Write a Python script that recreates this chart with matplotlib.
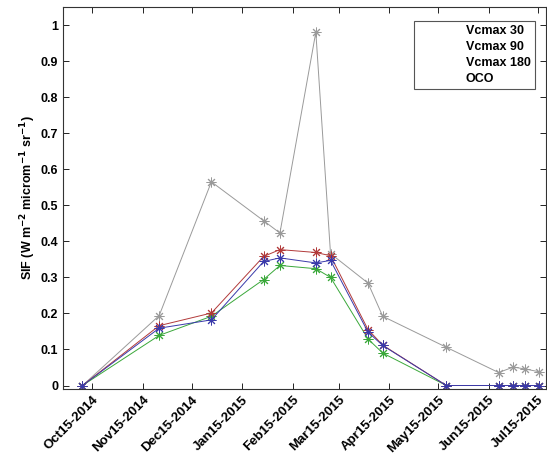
import matplotlib
matplotlib.use("Agg")
import matplotlib.pyplot as plt
from matplotlib.lines import Line2D
from datetime import datetime

plt.rcParams['font.family'] = ['Liberation Sans', 'DejaVu Sans']
plt.rcParams['font.weight'] = 'bold'

# observation dates
dates = ["2014-10-09", "2014-11-25", "2014-12-27", "2015-01-28", "2015-02-07",
         "2015-03-01", "2015-03-10", "2015-04-02", "2015-04-11", "2015-05-20",
         "2015-06-21", "2015-06-30", "2015-07-07", "2015-07-16"]

vcmax30 = [0, 0.166, 0.201, 0.358, 0.377, 0.369, 0.360, 0.155, 0.112, 0,
           0, 0, 0, 0]
vcmax90 = [0, 0.159, 0.182, 0.344, 0.354, 0.340, 0.347, 0.148, 0.111, 0,
           0, 0, 0, 0]
vcmax180 = [0, 0.139, 0.192, 0.294, 0.333, 0.324, 0.300, 0.129, 0.090, 0,
            0, 0, 0, 0]
oco = [0, 0.194, 0.565, 0.457, 0.423, 0.980, 0.366, 0.284, 0.192, 0.106,
       0.036, 0.051, 0.046, 0.038]

tick_dates = ["2014-10-15", "2014-11-15", "2014-12-15", "2015-01-15", "2015-02-15",
              "2015-03-15", "2015-04-15", "2015-05-15", "2015-06-15", "2015-07-15"]
tick_labels = ["Oct15-2014", "Nov15-2014", "Dec15-2014", "Jan15-2015", "Feb15-2015",
               "Mar15-2015", "Apr15-2015", "May15-2015", "Jun15-2015", "Jul15-2015"]

x = [datetime.strptime(d, "%Y-%m-%d") for d in dates]
xt = [datetime.strptime(d, "%Y-%m-%d") for d in tick_dates]

fig = plt.figure(figsize=(5.47, 4.66), dpi=100)
ax = fig.add_axes([0.115, 0.165, 0.883, 0.82])

# matlab style asterisk marker
star = (8, 2, 0)
style = dict(marker=star, markersize=7, linewidth=0.7, markeredgewidth=0.7)
ax.plot(x, oco, color='#9a9a9a', **style)
ax.plot(x, vcmax180, color='#3aa83a', **style)
ax.plot(x, vcmax30, color='#b23a3a', **style)
ax.plot(x, vcmax90, color='#3a3aaa', **style)

ax.set_xlim(datetime(2014, 9, 27), datetime(2015, 7, 20))
ax.set_ylim(-0.01, 1.05)
ax.set_xticks(xt)
ax.set_xticklabels(tick_labels, rotation=45, ha='right', rotation_mode='anchor',
                   fontsize=9.5, fontweight='bold')
ax.set_yticks([i / 10 for i in range(11)])
ax.set_yticklabels(["0", "0.1", "0.2", "0.3", "0.4", "0.5", "0.6", "0.7", "0.8", "0.9", "1"],
                   fontsize=9, fontweight='bold')
ax.tick_params(direction='in', top=True, right=True, length=4, width=0.6)
for s in ax.spines.values():
    s.set_linewidth(0.8)
    s.set_color('#333333')

ax.set_ylabel("SIF (W m$^{-2}$ microm$^{-1}$ sr$^{-1}$)", fontsize=9, fontweight='bold',
              labelpad=2)

blank = [Line2D([], [], color='none') for _ in range(4)]
leg = ax.legend(blank, ["Vcmax 30", "Vcmax 90", "Vcmax 180", "OCO"], loc='upper right',
                bbox_to_anchor=(0.99, 0.98), fancybox=False, framealpha=1,
                edgecolor='#555555', prop={'weight': 'bold', 'size': 9},
                handlelength=3.0, labelspacing=0.3, borderpad=0.35)
leg.get_frame().set_linewidth(0.8)

fig.savefig("out.png", dpi=100)
